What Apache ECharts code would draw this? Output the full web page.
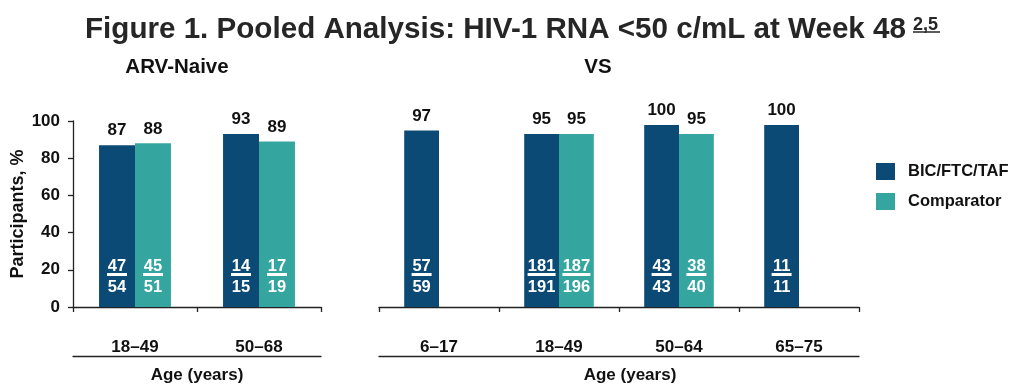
<!DOCTYPE html>
<html>
<head>
<meta charset="utf-8">
<script src="https://cdn.jsdelivr.net/npm/echarts@6/dist/echarts.min.js"></script>
<style>
  html, body { margin: 0; padding: 0; background: #fff; }
  #chart { width: 1018px; height: 385px; }
</style>
</head>
<body>
<div id="chart"></div>
<script>
// ---- Data ----
var naiveCats = ['18–49', '50–68'];
var naiveBic = [87, 93];
var naiveComp = [88, 89];
var naiveBicNum = [47, 14];
var naiveBicDen = [54, 15];
var naiveCompNum = [45, 17];
var naiveCompDen = [51, 19];

var vsCats = ['6–17', '18–49', '50–64', '65–75'];
var vsBic = [97, 95, 100, 100];
var vsComp = [null, 95, 95, null];
var vsBicNum = [57, 181, 43, 11];
var vsBicDen = [59, 191, 43, 11];
var vsCompNum = [null, 187, 38, null];
var vsCompDen = [null, 196, 40, null];

var yTicks = [0, 20, 40, 60, 80, 100];

var BLUE = '#0C4A76';
var TEAL = '#35A69F';
var FONT = 'Liberation Sans, Arial, sans-serif';

var chart = echarts.init(document.getElementById('chart'), null, { renderer: 'canvas' });

function fracFormatter(nums, dens) {
  return function (p) {
    var n = nums[p.dataIndex], d = dens[p.dataIndex];
    if (n == null) return '';
    var u = String(n).length >= 3 ? 'u3' : 'u2';
    return '{n|' + n + '}\n{' + u + '| }\n{d|' + d + '}';
  };
}
var fracRich = {
  n: { color: '#fff', fontSize: 16.5, fontWeight: 'bold', fontFamily: FONT, lineHeight: 14 },
  u2: { width: 20, height: 3, lineHeight: 3, fontSize: 1, backgroundColor: '#fff' },
  u3: { width: 28, height: 3, lineHeight: 3, fontSize: 1, backgroundColor: '#fff' },
  d: { color: '#fff', fontSize: 16.5, fontWeight: 'bold', fontFamily: FONT, lineHeight: 23 }
};

function valueSeries(name, data, color, idx) {
  return {
    name: name, type: 'bar', data: data, xAxisIndex: idx * 2, yAxisIndex: idx,
    barWidth: '29%', barGap: '0%',
    itemStyle: { color: color },
    label: { show: true, position: 'top', distance: 6, color: '#111',
      fontSize: 17, fontWeight: 'bold', fontFamily: FONT },
    silent: true
  };
}
function fracSeries(name, data, nums, dens, idx) {
  return {
    name: name, type: 'bar', data: data, xAxisIndex: idx * 2 + 1, yAxisIndex: idx,
    barWidth: '29%', barGap: '0%',
    itemStyle: { color: 'rgba(0,0,0,0)' },
    label: { show: true, position: 'insideBottom', distance: 8,
      formatter: fracFormatter(nums, dens), rich: fracRich },
    silent: true, z: 5
  };
}

function catAxis(cats, gridIndex) {
  return {
    type: 'category', data: cats, gridIndex: gridIndex, position: 'bottom',
    axisLine: { show: true, lineStyle: { color: '#222', width: 1.3 } },
    axisTick: { show: true, length: 5, lineStyle: { color: '#222', width: 1.3 } },
    axisLabel: { margin: 32, color: '#111', fontSize: 17, fontWeight: 'bold', fontFamily: FONT }
  };
}
function lineAxis(cats, gridIndex, shift) {
  return {
    type: 'category', data: cats, gridIndex: gridIndex, position: 'bottom', offset: 49,
    axisLine: { show: true, lineStyle: { color: '#222', width: 1.3 } },
    axisTick: { show: false }, axisLabel: { show: false },
    name: 'Age (years)', nameLocation: 'middle', nameGap: 11,
    nameTextStyle: { color: '#111', fontSize: 17, fontWeight: 'bold', fontFamily: FONT,
      verticalAlign: 'top', padding: [0, 0, 0, shift] }
  };
}

var option = {
  animation: false,
  textStyle: { fontFamily: FONT },
  graphic: [
    { type: 'text', x: 85, y: 30, style: { text: 'Figure 1. Pooled Analysis: HIV-1 RNA <50 c/mL at Week 48',
        font: 'bold 29.6px ' + FONT, fill: '#262626', textAlign: 'left', align: 'left', textVerticalAlign: 'middle', verticalAlign: 'middle' } },
    { type: 'text', x: 913, y: 25, style: { text: '2,5',
        font: 'bold 18px ' + FONT, fill: '#262626', textAlign: 'left', align: 'left', textVerticalAlign: 'middle', verticalAlign: 'middle' } },
    { type: 'line', shape: { x1: 913, y1: 32, x2: 940, y2: 32 }, style: { stroke: '#262626', lineWidth: 1.5 } },
    { type: 'text', x: 177, y: 67, style: { text: 'ARV-Naive',
        font: 'bold 20.5px ' + FONT, fill: '#111', textAlign: 'center', align: 'center', textVerticalAlign: 'middle', verticalAlign: 'middle' } },
    { type: 'text', x: 598, y: 67, style: { text: 'VS',
        font: 'bold 20.5px ' + FONT, fill: '#111', textAlign: 'center', align: 'center', textVerticalAlign: 'middle', verticalAlign: 'middle' } }
  ],
  legend: {
    data: ['BIC/FTC/TAF', 'Comparator'],
    orient: 'vertical', left: 876, top: 163, padding: 0,
    itemWidth: 19, itemHeight: 17, itemGap: 13, icon: 'rect',
    selectedMode: false,
    textStyle: { color: '#111', fontSize: 16.5, fontWeight: 'bold', fontFamily: FONT, padding: [0, 0, 0, 8] }
  },
  grid: [
    { left: 73, right: 697, top: 121, bottom: 76 },
    { left: 379, right: 159, top: 125, bottom: 76 }
  ],
  xAxis: [
    catAxis(naiveCats, 0), lineAxis(naiveCats, 0, 0),
    catAxis(vsCats, 1), lineAxis(vsCats, 1, 22)
  ],
  yAxis: [
    {
      type: 'value', gridIndex: 0, min: yTicks[0], max: yTicks[yTicks.length - 1], interval: yTicks[1] - yTicks[0],
      axisLine: { show: true, lineStyle: { color: '#222', width: 1.3 } },
      axisTick: { show: true, length: 5, lineStyle: { color: '#222', width: 1.3 } },
      splitLine: { show: false },
      axisLabel: { margin: 13, color: '#111', fontSize: 17, fontWeight: 'bold', fontFamily: FONT },
      name: 'Participants, %', nameLocation: 'middle', nameGap: 46, nameRotate: 90,
      nameTextStyle: { color: '#111', fontSize: 18, fontWeight: 'bold', fontFamily: FONT }
    },
    { type: 'value', gridIndex: 1, min: 0, max: 100, show: false, splitLine: { show: false } }
  ],
  series: [
    valueSeries('BIC/FTC/TAF', naiveBic, BLUE, 0),
    valueSeries('Comparator', naiveComp, TEAL, 0),
    fracSeries('naiveBicFrac', naiveBic, naiveBicNum, naiveBicDen, 0),
    fracSeries('naiveCompFrac', naiveComp, naiveCompNum, naiveCompDen, 0),
    valueSeries('BIC/FTC/TAF', vsBic, BLUE, 1),
    valueSeries('Comparator', vsComp, TEAL, 1),
    fracSeries('vsBicFrac', vsBic, vsBicNum, vsBicDen, 1),
    fracSeries('vsCompFrac', vsComp, vsCompNum, vsCompDen, 1)
  ]
};
chart.setOption(option);
</script>
</body>
</html>
